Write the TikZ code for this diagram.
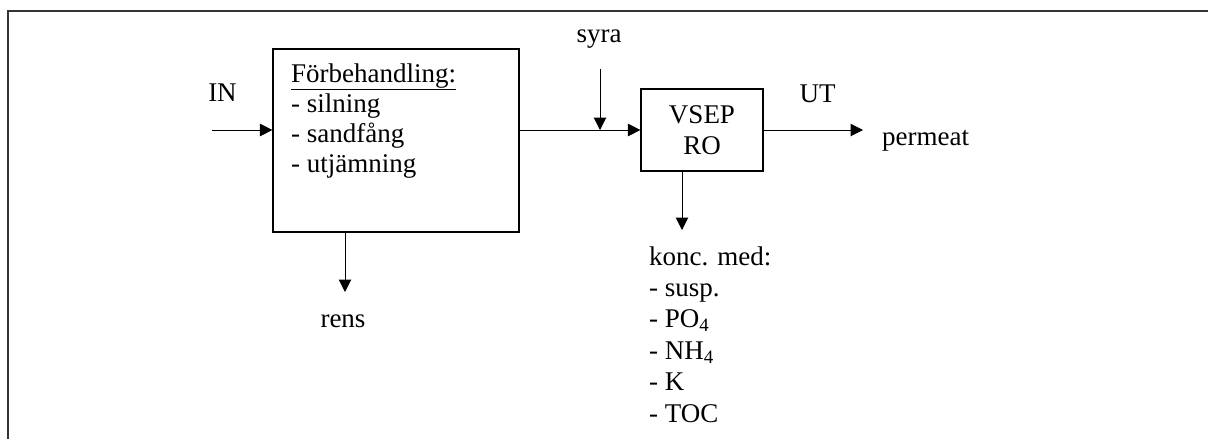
\documentclass[tikz,border=0pt]{standalone}
\usepackage{fontspec}
\setmainfont{Liberation Serif}
\usetikzlibrary{positioning,
				arrows.meta,
				calc}

\tikzset{
	blk/.style={draw, line width=1.2pt, inner sep=0pt},
	flow/.style={line width=1pt, -{Triangle[length=12.5pt,width=12.5pt]}},
	lbl/.style={inner sep=0pt, font=\fontsize{27}{31}\selectfont},
	lst/.style={lbl, align=left, anchor=base west},
}

\begin{document}
\begin{tikzpicture}[x=1pt, y=-1pt]
	\useasboundingbox (0,0) rectangle (1208,439);
	% frame
	\draw[line width=1.5pt, black!80] (8,439) -- (8,11) -- (1208,11);
	% blocks
	\node[blk, minimum width=246pt, minimum height=183pt] (pre) at (396,140.5) {};
	\node[blk, lbl, minimum width=122pt, minimum height=82pt, align=center] (vsep) at (702,130) {VSEP\\RO};
	% last line sits at the given point
	\node[lst, font=\fontsize{27}{30}\selectfont] (pretxt) at (291,172) {\underline{Förbehandling:}\\- silning\\- sandfång\\- utjämning};
	% inflow
	\node[lbl, anchor=base] (in) at (222.5,101.5) {IN};
	\coordinate (inpt) at (212,130);
	\draw[flow] (inpt) -- (inpt -| pre.west);
	% acid dosing
	\node[lbl, anchor=base] (syra) at (599,42) {syra};
	\coordinate (dose) at (600,69);
	\coordinate (mix) at (600,130);
	\draw[flow] (pre.east |- vsep.west) -- (vsep.west);
	\draw[flow] (dose) -- (mix);
	% permeate
	\node[lbl, anchor=base] (ut) at (817.5,102) {UT};
	\coordinate (utpt) at (863,130);
	\draw[flow] (vsep.east) -- (utpt);
	\node[lbl, anchor=base west] (perm) at (882,145) {permeat};
	% sludge
	\coordinate (renspt) at (345,292);
	\draw[flow] (renspt |- pre.south) -- (renspt);
	\node[lbl, anchor=base] (rens) at (343,327) {rens};
	% concentrate
	\coordinate (koncpt) at (682,230);
	\draw[flow] (koncpt |- vsep.south) -- (koncpt);
	\node[lst, font=\fontsize{27}{31.4}\selectfont] (konc) at (649,422) {konc. med:\\- susp.\\- PO\textsubscript{4}\\- NH\textsubscript{4}\\- K\\- TOC};
\end{tikzpicture}
\end{document}
